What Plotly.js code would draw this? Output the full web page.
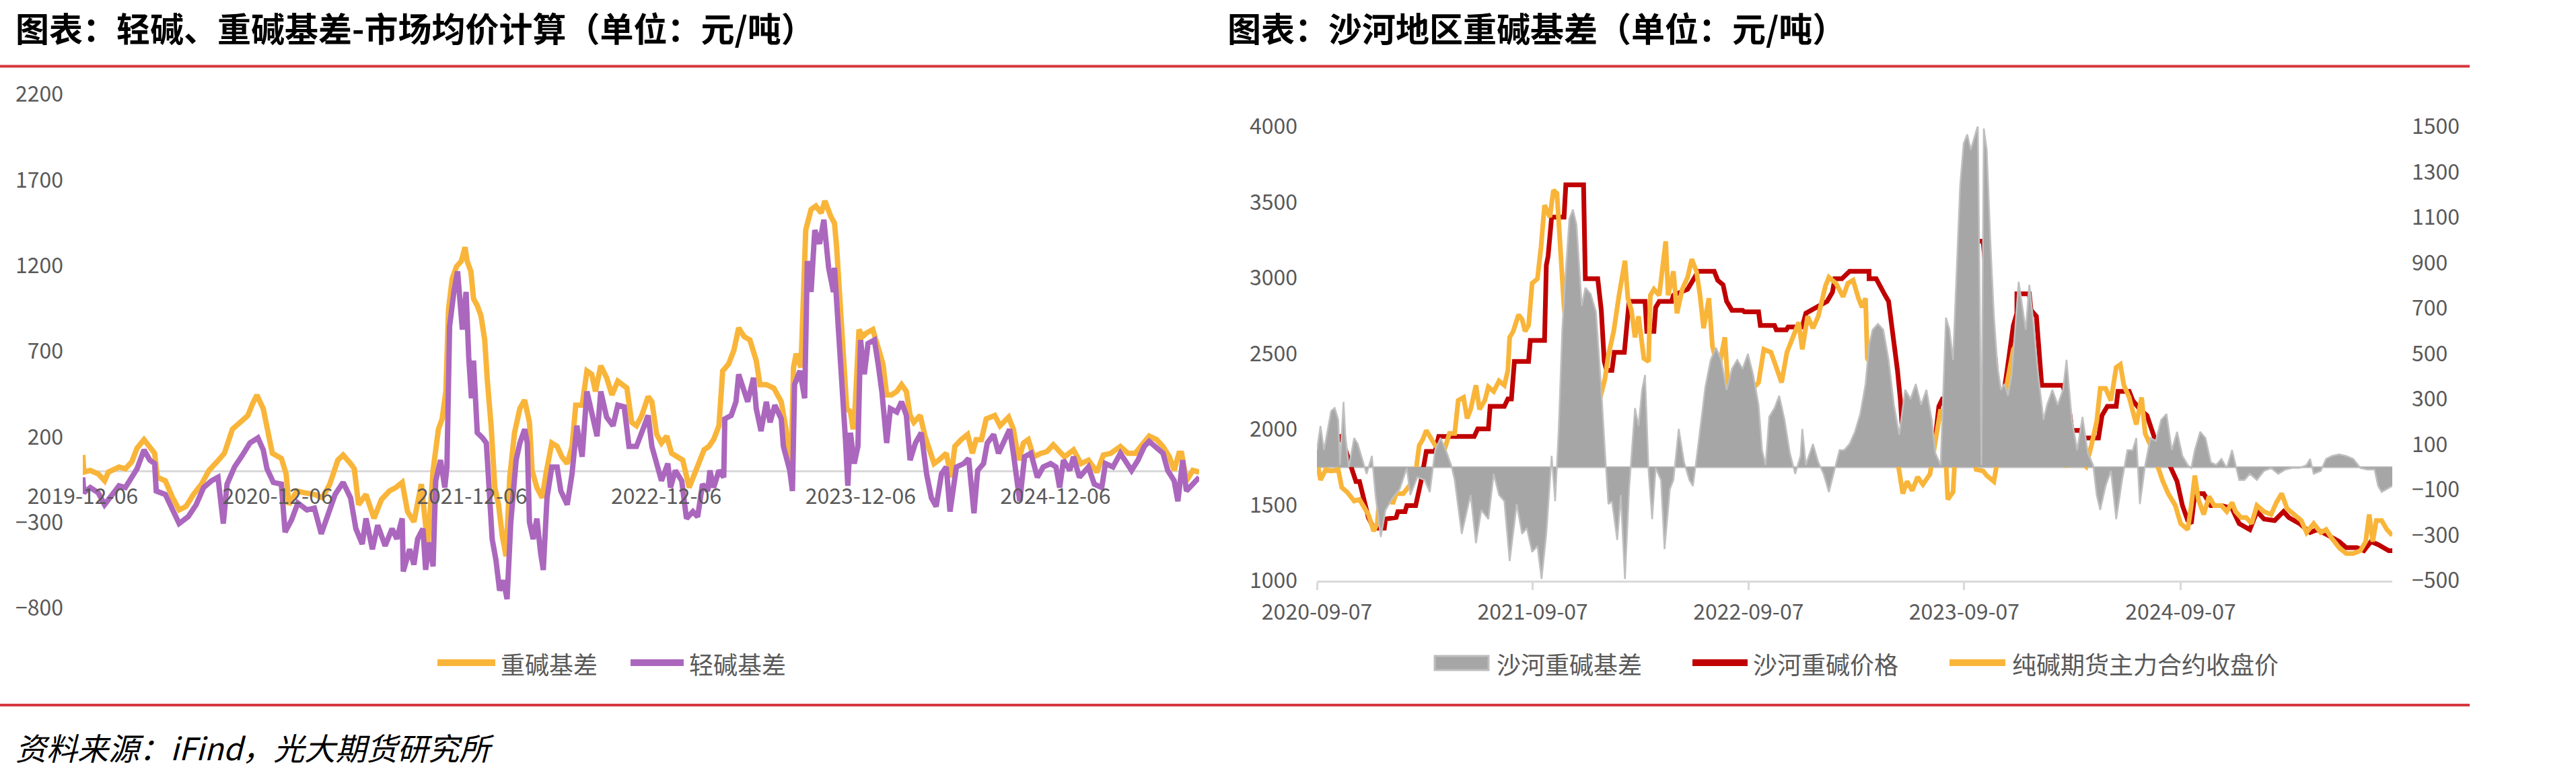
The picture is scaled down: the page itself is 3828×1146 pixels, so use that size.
<!DOCTYPE html>
<html>
<head>
<meta charset="utf-8">
<script src="https://cdn.plot.ly/plotly-3.0.1.min.js"></script>
<style>
  html, body { margin: 0; padding: 0; background: #ffffff; }
  #chart { width: 3828px; height: 1146px; }
</style>
</head>
<body>
<div id="chart"></div>
<script>
// ---------------- LEFT CHART DATA: 轻碱、重碱基差 (days since 2019-12-06) ----------------
const LEFT_START = '2019-12-06';
const heavyDays = [0,2,14,29,41,48,68,80,92,102,115,126,135,140,155,169,181,194,208,223,237,252,266,281,295,310,319,327,339,348,356,373,382,387,402,416,435,450,464,479,489,503,510,518,532,547,561,576,588,600,610,622,636,648,658,668,675,682,687,694,702,
711,718,722,729,734,741,748,755,760,767,774,781,788,795,802,811,821,830,839,844,853,863,870,881,891,900,910,919,926,938,947,956,963,973,984,994,1005,1022,1031,1040,1050,1062,1069,1078,1087,1097,1106,1115,1127,1139,1153,1167,1176,1185,1195,1202,1213,1223,1232,1242,1253,1265,1272,1284,1298,1312,1321,1330,1335,1340,1349,1358,1368,1377,1387,1394,1405,
1412,1416,1421,1428,1435,1442,1447,1451,1458,1465,1472,1484,1494,1503,1510,1519,1529,1538,1547,1554,1561,1573,1582,1592,1599,1608,1622,1631,1638,1650,1662,1671,1678,1688,1697,1713,1723,1739,1748,1758,1767,1776,1786,1800,1811,1823,1833,1844,1861,1875,1889,1905,1917,1931,1949,1963,1977,1992,2003,2017,2029,2041,2050,2059,2064,2073,2085,2097];
const heavyBasis = [94,-6,4,-16,-56,-6,24,14,54,134,184,144,104,-36,-56,-156,-226,-206,-136,-76,4,54,104,244,284,324,394,444,364,224,104,74,-16,-196,-116,-126,-136,-156,-76,64,94,44,14,-196,-136,-276,-166,-116,-96,-66,-236,-296,-76,-436,4,244,304,464,944,1124,1194,
1226,1307,1226,1166,1006,966,906,766,525,265,-96,-196,-377,-497,-36,224,365,415,285,4,-96,-156,-16,164,144,84,44,144,385,385,585,565,465,615,545,445,525,485,285,265,325,435,405,214,164,204,104,84,64,-96,24,124,144,184,265,585,625,705,836,786,766,645,505,505,485,405,244,-36,605,685,605,1407,1527,1547,1507,1577,1487,
1447,1307,1046,725,365,345,244,385,826,786,806,826,725,625,445,445,465,505,465,325,285,325,204,104,44,64,104,-36,144,184,214,104,184,184,305,325,265,315,244,64,164,184,84,104,114,154,124,84,124,44,64,-6,94,104,144,104,104,164,204,184,144,84,4,104,104,-56,4,-6];

const lightDays = [0,2,14,29,41,53,68,80,92,102,115,126,135,138,155,169,181,198,213,227,242,254,264,271,285,300,314,329,339,346,358,373,380,392,404,421,435,448,460,474,489,503,513,525,532,544,554,568,581,590,600,602,614,622,629,639,644,651,658,663,672,680,684,689,697,
704,713,720,725,730,734,741,751,758,762,769,776,783,790,797,804,814,821,830,835,839,846,853,860,865,872,881,891,898,910,919,928,938,947,956,966,973,984,996,1005,1017,1026,1040,1052,1062,1069,1078,1087,1099,1104,1113,1125,1134,1146,1155,1164,1174,1178,1185,1195,1204,1206,1218,1227,1232,1239,1249,1260,1265,1274,1284,1291,1300,1312,1316,1328,1333,1337,1347,1356,1361,1368,1375,1384,1392,1401,1410,
1412,1416,1421,1428,1433,1437,1442,1449,1456,1461,1468,1475,1487,1494,1501,1510,1517,1529,1538,1547,1554,1564,1575,1585,1594,1603,1613,1622,1629,1641,1655,1664,1674,1681,1692,1699,1711,1720,1732,1741,1748,1760,1769,1781,1793,1804,1818,1828,1835,1842,1854,1861,1872,1889,1900,1914,1921,1935,1949,1961,1970,1982,1994,2003,2015,2029,2038,2050,2057,2066,2073,2085,2097];
const lightBasis = [-36,-126,-96,-126,-196,-146,-86,-96,-36,14,124,64,44,-116,-136,-236,-306,-266,-196,-96,-56,-36,-306,-76,24,94,164,194,124,14,-66,-76,-356,-286,-186,-226,-216,-366,-256,-136,-66,-156,-336,-426,-276,-456,-316,-436,-336,-396,-276,-586,-456,-546,-396,-336,-576,-416,-556,-56,64,-96,24,844,1044,
1166,826,1046,665,425,645,224,194,164,-36,-397,-517,-697,-637,-747,-297,64,164,244,164,-297,-397,-277,-477,-577,-156,24,24,-116,-196,-16,265,84,465,345,204,465,315,265,385,375,144,144,244,325,144,34,-56,44,-96,4,-56,-277,-236,-267,-76,-116,4,-96,4,-36,305,325,405,565,505,405,545,365,234,405,285,385,305,144,4,-116,505,585,425,1226,1046,1407,1327,1467,1187,1046,
1187,1006,765,465,164,-86,224,44,144,765,565,745,765,625,465,164,365,345,405,325,64,164,224,-16,-156,-206,-16,24,-236,24,44,74,-246,4,44,164,214,104,184,244,104,-176,84,104,-36,24,44,24,-96,64,4,84,-36,24,-76,-96,44,24,104,44,4,64,144,174,144,104,4,-56,-176,64,-116,-76,-36];

const leftTickVals = ['2019-12-06','2020-12-06','2021-12-06','2022-12-06','2023-12-06','2024-12-06'];
const leftTickText = ['2019-12-06','2020-12-06','2021-12-06','2022-12-06','2023-12-06','2024-12-06'];

// ---------------- RIGHT CHART DATA: 沙河重碱 (days since 2020-09-07) ----------------
const RIGHT_START = '2020-09-07';
const shaheDays = [0,6,24,24,39,45,51,66,72,78,87,96,114,116,134,137,149,152,167,176,185,200,206,266,272,290,293,317,323,329,334,358,361,385,388,391,397,418,421,451,454,475,481,486,490,499,503,520,526,528,555,558,570,573,579,600,603,627,636,645,672,678,687,693,702,720,723,747,750,774,777,794,797,821,827,846,863,872,876,888,
901,934,934,946,952,961,967,973,979,982,987,991,1013,1016,1034,1037,1046,1052,1058,1076,1082,1088,1094,1127,1130,1136,1139,1148,1151,1160,1166,1172,1178,1184,1184,1205,1208,1217,1223,1226,1262,1268,1274,1277,1292,1295,1322,1328,1337,1352,1355,1374,1380,1392,1404,1416,1425,1434,1443,1455,1464,1473,1479,1485,1500,1512,1530,1548,1560,1578,1590,1602,1620,1635,1644,1662,1680,1692,1711,1729,1741,1759,1771,1783,1795,1804,1813,1819];
const shahePrice = [1804,1853,1853,1952,1952,1903,1833,1655,1655,1556,1417,1347,1347,1407,1417,1456,1456,1496,1496,1655,1853,1853,1952,1952,2002,2002,2151,2151,2200,2200,2448,2448,2587,2587,3083,3143,3401,3401,3615,3615,2994,2994,2786,2448,2389,2389,2508,2508,2746,2845,2845,2647,2647,2805,2845,2845,2885,2925,2984,3043,3043,2984,2954,2845,2786,2786,2776,2776,2686,2686,2657,2657,2676,2676,2766,2805,2845,2905,2994,2994,
3043,3043,2994,2994,2944,2885,2845,2667,2488,2389,2190,1952,1952,2002,2002,1942,1942,2151,2200,2200,2409,3004,3242,3242,3103,3103,2686,2448,2190,2190,2349,2508,2686,2766,2895,2895,2786,2746,2409,2290,2290,2190,2091,1992,1992,1942,1942,2091,2151,2151,2250,2250,2190,2131,2091,1952,1873,1833,1754,1655,1496,1397,1377,1575,1575,1496,1496,1476,1377,1337,1456,1407,1397,1456,1417,1377,1318,1337,1298,1258,1218,1218,1198,1258,1238,1218,1198,1198];

const futDays = [0,6,15,24,36,42,51,63,72,78,87,96,102,108,116,122,128,134,146,158,167,173,179,185,191,200,206,215,224,233,239,248,254,260,269,275,284,290,299,308,317,323,326,332,341,347,352,358,364,373,379,385,394,400,406,412,418,424,430,436,442,448,454,460,469,478,487,493,502,511,521,526,532,538,544,553,561,564,570,579,585,590,594,603,609,618,627,634,642,648,654,663,669,675,681,690,696,705,713,720,729,738,747,756,768,777,786,795,803,815,821,830,839,848,860,866,878,890,
898,907,916,922,928,931,940,952,958,964,973,979,985,991,998,1007,1016,1025,1037,1046,1055,1061,1067,1076,1082,1088,1094,1106,1115,1127,1133,1145,1154,1160,1169,1178,1184,1187,1193,1202,1208,1217,1226,1232,1238,1247,1256,1268,1277,1289,1301,1310,1319,1325,1334,1343,1352,1359,1365,1374,1386,1395,1401,1410,1422,1431,1440,1452,1461,1473,1479,1485,1491,1500,1509,1518,1530,1539,1548,1554,1563,1572,1581,1590,1602,1614,1623,1632,1641,1653,1665,1674,1686,1698,1707,1717,1729,1741,1753,1765,1774,1780,1786,1792,1801,1810,1819];
const futClose = [1794,1665,1734,1724,1734,1615,1585,1526,1536,1496,1437,1327,1377,1665,1575,1655,1506,1575,1575,1635,1714,1893,1932,1992,1952,1893,1873,1853,1972,1972,2190,2210,2071,2131,2290,2131,2190,2280,2250,2319,2290,2389,2607,2647,2756,2726,2647,2686,2964,2994,3202,3480,3401,3579,3559,3202,2805,2607,2686,2528,2647,2369,2567,2250,2290,2190,2329,2488,2647,2885,3113,2865,2786,2607,2746,2468,2448,2885,2925,2885,3123,3242,2885,3043,2766,2925,3004,3123,3043,2885,2667,2865,2548,2448,2428,2607,2250,2389,2240,2408,2309,2270,2309,2528,2508,2408,2309,2508,2587,2706,2528,2746,2667,2746,2944,3004,2964,2875,
2964,2984,2865,2806,2865,2468,2409,2329,2210,2091,2012,1853,1694,1575,1655,1595,1684,1635,1704,1932,2131,2052,1536,1585,2002,1853,1794,1893,1734,1724,1694,1655,1853,2151,2329,2528,2567,2071,2329,2131,2052,1932,1853,2052,1893,1932,1833,1754,1833,1794,1754,1893,2052,2270,2270,2190,2409,2428,2290,2210,2032,2210,1972,1893,1754,1655,1575,1496,1377,1337,1496,1694,1536,1437,1556,1496,1496,1456,1516,1456,1417,1417,1377,1496,1456,1437,1516,1575,1476,1437,1397,1318,1377,1318,1337,1278,1218,1179,1179,1198,1258,1437,1258,1397,1397,1337,1298];

const basisDays = [0,6,12,24,30,36,39,45,48,54,63,69,75,84,93,99,108,116,128,140,152,158,170,182,191,200,209,218,227,233,239,245,254,260,269,278,290,299,308,317,326,338,347,355,364,373,380,388,397,403,409,415,421,427,433,439,444,448,454,463,472,481,487,493,499,508,514,521,528,538,544,550,555,561,567,573,582,588,597,603,612,621,630,636,642,648,657,666,675,684,693,702,711,720,729,738,747,753,759,765,774,782,791,800,809,818,821,827,839,848,857,866,875,884,
892,901,910,919,928,934,940,949,958,967,976,985,995,1004,1013,1022,1031,1040,1046,1055,1064,1070,1076,1082,1088,1094,1100,1106,1112,1118,1124,1128,1133,1139,1145,1151,1157,1163,1169,1175,1181,1187,1193,1199,1205,1211,1220,1229,1235,1244,1253,1262,1268,1277,1286,1295,1304,1313,1319,1325,1334,1343,1352,1362,1371,1380,1386,1392,1401,1410,1419,1428,1437,1446,1455,1464,1473,1479,1485,1494,1503,1512,1521,1530,1539,1548,1554,1560,1569,1578,1590,1602,1614,1626,1638,1650,1662,1674,1680,1686,1698,1707,1717,1729,1741,1753,1765,1777,1789,1795,1801,1810,1819];
const shaheBasis = [75,181,75,247,260,208,9,287,142,0,128,102,49,-30,49,-123,-308,-189,-136,-97,-4,-123,-44,-57,-110,75,128,75,9,-57,-176,-294,-189,-123,-335,-189,-229,-30,-123,-150,-414,-163,-294,-268,-374,-348,-493,-294,49,-150,168,605,869,1094,1134,1068,869,710,790,763,684,340,75,-163,-150,-321,-123,-493,-97,260,181,340,406,-17,-229,-4,-57,-361,-97,-57,168,22,-57,-83,36,168,353,472,525,472,340,433,472,433,499,406,274,75,9,221,260,314,208,62,-30,49,168,9,102,22,-30,-110,-17,75,
75,102,155,234,366,538,605,631,605,472,274,142,340,300,366,274,340,208,62,9,658,605,472,869,1240,1425,1465,1398,1451,1504,9,1491,1398,1001,671,446,340,366,314,406,605,816,710,605,803,658,406,208,274,340,274,340,472,208,75,221,62,9,-123,-189,-83,-17,-229,-57,75,75,128,-163,9,128,115,208,234,75,155,49,9,-4,75,155,128,22,9,36,-4,75,9,-57,-57,-30,-57,-17,-4,-30,-11,-4,-4,9,36,-30,-17,36,49,56,49,36,-4,-11,-11,-83,-110,-97,-83];

const rightTickVals = ['2020-09-07','2021-09-07','2022-09-07','2023-09-07','2024-09-07'];
const rightTickText = ['2020-09-07','2021-09-07','2022-09-07','2023-09-07','2024-09-07'];

const leftSeriesNames = ['重碱基差', '轻碱基差'];
const rightSeriesNames = ['沙河重碱基差', '沙河重碱价格', '纯碱期货主力合约收盘价'];

// ---------------- helpers ----------------
function toDates(start, days) {
  const p = start.split('-').map(Number);
  const base = Date.UTC(p[0], p[1] - 1, p[2]);
  return days.map(d => new Date(base + d * 86400000).toISOString().slice(0, 10));
}

const FONT = '"Noto Sans CJK SC", "Noto Sans", sans-serif';
const TICK_FONT = { family: FONT, size: 32, color: '#595959' };
const LEGEND_FONT = { family: FONT, size: 36, color: '#595959' };
const W = 3828, H = 1146;
const px = v => v / W;           // horizontal pixel -> paper
const py = v => 1 - v / H;       // vertical pixel -> paper

const ORANGE = '#F9B53A', PURPLE = '#AB67BD', RED = '#C00000';
const GRAY_FILL = '#A6A6A6', GRAY_LINE = '#BFBFBF';

const traces = [
  { x: toDates(LEFT_START, heavyDays), y: heavyBasis, name: leftSeriesNames[0], type: 'scatter', mode: 'lines',
    xaxis: 'x', yaxis: 'y', line: { color: ORANGE, width: 8 }, showlegend: false },
  { x: toDates(LEFT_START, lightDays), y: lightBasis, name: leftSeriesNames[1], type: 'scatter', mode: 'lines',
    xaxis: 'x', yaxis: 'y', line: { color: PURPLE, width: 8 }, showlegend: false },
  { x: toDates(RIGHT_START, basisDays), y: shaheBasis, name: rightSeriesNames[0], type: 'scatter', mode: 'lines',
    xaxis: 'x2', yaxis: 'y3', fill: 'tozeroy', fillcolor: GRAY_FILL, line: { color: GRAY_LINE, width: 2.5 }, showlegend: false },
  { x: toDates(RIGHT_START, shaheDays), y: shahePrice, name: rightSeriesNames[1], type: 'scatter', mode: 'lines',
    xaxis: 'x2', yaxis: 'y2', line: { color: RED, width: 7 }, showlegend: false },
  { x: toDates(RIGHT_START, futDays), y: futClose, name: rightSeriesNames[2], type: 'scatter', mode: 'lines',
    xaxis: 'x2', yaxis: 'y2', line: { color: ORANGE, width: 7 }, showlegend: false }
];

// ---------------- legend (drawn as shapes + text, matching the report's long keys) ----------------
const LEG_Y = 985;
const legendKeys = [
  { kind: 'line', x0: 650, x1: 736, color: ORANGE, text: leftSeriesNames[0], tx: 743 },
  { kind: 'line', x0: 937, x1: 1016, color: PURPLE, text: leftSeriesNames[1], tx: 1023 },
  { kind: 'rect', x0: 2132, x1: 2212, color: GRAY_FILL, text: rightSeriesNames[0], tx: 2223 },
  { kind: 'line', x0: 2515, x1: 2597, color: RED, text: rightSeriesNames[1], tx: 2604 },
  { kind: 'line', x0: 2897, x1: 2980, color: ORANGE, text: rightSeriesNames[2], tx: 2989 }
];
const legendShapes = legendKeys.map(k => k.kind === 'line'
  ? { type: 'line', xref: 'paper', yref: 'paper', x0: px(k.x0), x1: px(k.x1), y0: py(LEG_Y), y1: py(LEG_Y),
      line: { color: k.color, width: 10 } }
  : { type: 'rect', xref: 'paper', yref: 'paper', x0: px(k.x0), x1: px(k.x1), y0: py(LEG_Y + 11), y1: py(LEG_Y - 10),
      fillcolor: k.color, line: { color: GRAY_LINE, width: 3 } });
const legendTexts = legendKeys.map(k => ({
  text: k.text, xref: 'paper', yref: 'paper', x: px(k.tx), y: py(LEG_Y + 1),
  xanchor: 'left', yanchor: 'middle', showarrow: false, borderpad: 0, font: LEGEND_FONT
}));

const layout = {
  width: W, height: H,
  margin: { l: 0, r: 0, t: 0, b: 0, pad: 0 },
  paper_bgcolor: '#ffffff', plot_bgcolor: 'rgba(0,0,0,0)',
  font: { family: FONT, color: '#595959' },
  showlegend: false,
  xaxis: {
    domain: [px(123), px(1782)], type: 'date',
    range: [toDates(LEFT_START, [0])[0], toDates(LEFT_START, [2097])[0]],
    anchor: 'free', position: py(701),
    showgrid: false, zeroline: false, showline: false, ticks: '',
    tickmode: 'array', tickvals: leftTickVals, ticktext: leftTickText,
    tickfont: TICK_FONT, ticklabelstandoff: 15
  },
  yaxis: {
    domain: [py(904), py(140)], range: [-800, 2200], anchor: 'x',
    tickmode: 'linear', tick0: -800, dtick: 500,
    showgrid: false, showline: false, ticks: '',
    zeroline: true, zerolinecolor: '#D9D9D9', zerolinewidth: 3,
    tickfont: TICK_FONT, ticklabelstandoff: 28
  },
  xaxis2: {
    domain: [px(1957), px(3555)], type: 'date', anchor: 'y2',
    range: [toDates(RIGHT_START, [0])[0], toDates(RIGHT_START, [1819])[0]],
    showgrid: false, zeroline: false,
    showline: true, linecolor: '#D9D9D9', linewidth: 3,
    ticks: 'outside', ticklen: 11, tickwidth: 3, tickcolor: '#D9D9D9',
    tickmode: 'array', tickvals: rightTickVals, ticktext: rightTickText,
    tickfont: TICK_FONT, ticklabelstandoff: 6
  },
  yaxis2: {
    domain: [py(863), py(188)], range: [1000, 4000], anchor: 'x2',
    tickmode: 'linear', tick0: 1000, dtick: 500,
    showgrid: false, zeroline: false, showline: false, ticks: '',
    tickfont: TICK_FONT, ticklabelstandoff: 28
  },
  yaxis3: {
    overlaying: 'y2', side: 'right', anchor: 'x2', range: [-500, 1500],
    tickmode: 'linear', tick0: -500, dtick: 200,
    showgrid: false, showline: false, ticks: '',
    zeroline: true, zerolinecolor: '#C8C8C8', zerolinewidth: 3,
    tickfont: TICK_FONT, ticklabelstandoff: 28
  },
  shapes: [
    { type: 'line', xref: 'paper', yref: 'paper', x0: 0, x1: px(3670), y0: py(98.5), y1: py(98.5),
      line: { color: '#D6373E', width: 4 } },
    { type: 'line', xref: 'paper', yref: 'paper', x0: 0, x1: px(3670), y0: py(1048), y1: py(1048),
      line: { color: '#D6373E', width: 4 } }
  ].concat(legendShapes),
  annotations: [
    { text: '图表：轻碱、重碱基差-市场均价计算（单位：元/吨）', xref: 'paper', yref: 'paper',
      x: px(22), y: py(3), xanchor: 'left', yanchor: 'top', showarrow: false, borderpad: 0,
      font: { family: FONT, size: 50, color: '#000000', weight: 700 } },
    { text: '图表：沙河地区重碱基差（单位：元/吨）', xref: 'paper', yref: 'paper',
      x: px(1823), y: py(3), xanchor: 'left', yanchor: 'top', showarrow: false, borderpad: 0,
      font: { family: FONT, size: 50, color: '#000000', weight: 700 } },
    { text: '资料来源：iFind，光大期货研究所', xref: 'paper', yref: 'paper',
      x: px(22), y: py(1110), xanchor: 'left', yanchor: 'middle', showarrow: false, borderpad: 0,
      font: { family: FONT, size: 46, color: '#000000', style: 'italic' } }
  ].concat(legendTexts)
};

Plotly.newPlot('chart', traces, layout, { staticPlot: true, displayModeBar: false });
</script>
</body>
</html>
